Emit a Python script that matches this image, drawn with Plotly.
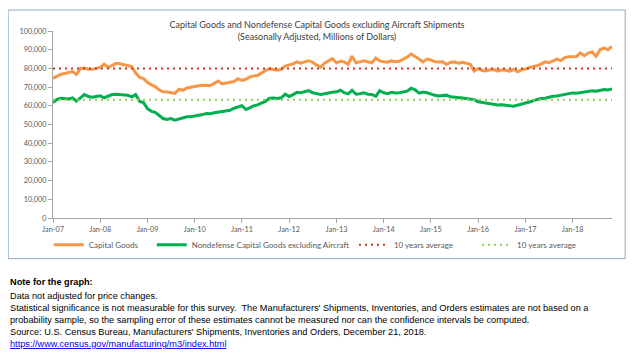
import pandas as pd
import plotly.graph_objects as go

# ---- data (millions of dollars, monthly, Jan-2007 .. Nov-2018) ----
capital_goods = [
    # 2007
    74700, 76000, 76800, 77300, 77700, 78300, 76800, 80000, 80200, 79600, 79500, 79800,
    # 2008
    80500, 82200, 80600, 81500, 82700, 82500, 82000, 81800, 81000, 77500, 75200, 74500,
    # 2009
    72500, 71200, 70300, 68500, 67500, 67400, 67200, 66700, 68900, 68300, 69500, 70000,
    # 2010
    70300, 70700, 71000, 70800, 70800, 72000, 73200, 71700, 72300, 72600, 73000, 74500,
    # 2011
    73600, 74200, 75300, 76000, 76200, 77600, 78800, 79800, 79600, 79000, 79500, 81200,
    # 2012
    81900, 82400, 83500, 82800, 83500, 84100, 83200, 81700, 80700, 82800, 84000, 85200,
    # 2013
    83000, 83800, 83500, 82200, 86500, 83000, 83500, 84100, 83500, 83000, 85500, 84000,
    # 2014
    83500, 83300, 84000, 83600, 83800, 84700, 86000, 87700, 86500, 85000, 83500, 85000,
    # 2015
    84500, 83500, 83400, 83600, 82200, 83200, 83500, 82800, 83300, 82600, 82200, 78500,
    # 2016
    79900, 78900, 78600, 79200, 79400, 78500, 79200, 79000, 78500, 79400, 78200, 79200,
    # 2017
    79600, 80500, 80800, 81500, 82300, 83500, 83000, 84000, 85000, 84200, 85800, 86200,
    # 2018
    86500, 86400, 88300, 86800, 88200, 88800, 86500, 90000, 91000, 90000, 91800,
]

nondefense_ex_aircraft = [
    # 2007
    61700, 63500, 64000, 63800, 63700, 64200, 62500, 64200, 66000, 65000, 64600, 65000,
    # 2008
    65400, 64300, 65000, 66000, 66200, 66000, 66000, 65600, 64800, 66000, 62300, 61700,
    # 2009
    58500, 57000, 56500, 55000, 53200, 52700, 53200, 52300, 53000, 53500, 54100, 54200,
    # 2010
    54500, 54800, 55300, 55900, 55800, 56300, 56600, 57000, 57400, 57600, 58700, 59200,
    # 2011
    60000, 58000, 59000, 60000, 60500, 61300, 62300, 64000, 64200, 63900, 64300, 66200,
    # 2012
    65000, 66000, 67200, 67000, 67500, 68100, 67000, 66500, 66000, 66400, 67000, 67200,
    # 2013
    67500, 68300, 67000, 66400, 68300, 66200, 66500, 66900, 66200, 66000, 65100, 68100,
    # 2014
    67000, 66500, 67200, 66800, 67000, 67300, 67800, 69400, 68500, 66800, 67400, 67000,
    # 2015
    66200, 65600, 65200, 65400, 65700, 64800, 64700, 64600, 64200, 63900, 63600, 63300,
    # 2016
    62200, 61800, 61400, 61000, 60800, 60400, 60500, 60400, 60000, 59800, 60300, 60700,
    # 2017
    61300, 62000, 62800, 63400, 63900, 64000, 64600, 65100, 65300, 65600, 66200, 66400,
    # 2018
    66900, 66700, 67000, 67400, 67800, 68100, 67800, 68100, 68700, 68500, 69000,
]

avg_capital_goods = 80000
avg_nondefense = 63200

months = pd.date_range("2007-01-01", periods=len(capital_goods), freq="MS")

title_text = ("Capital Goods and Nondefense Capital Goods excluding Aircraft Shipments<br>"
              "(Seasonally Adjusted, Millions of Dollars)")
note_lines = [
    "<b>Note for the graph:</b>",
    "Data not adjusted for price changes.",
    "Statistical significance is not measurable for this survey.  The Manufacturers' Shipments, "
    "Inventories, and Orders estimates are not based on a",
    "probability sample, so the sampling error of these estimates cannot be measured nor can the "
    "confidence intervals be computed.",
    "Source: U.S. Census Bureau, Manufacturers' Shipments, Inventories and Orders, December 21, 2018.",
    "<u>https://www.census.gov/manufacturing/m3/index.html</u>",
]

# ---- geometry (page pixels; the page body adds an 8px offset) ----
OFF = 8
PAGE_W, PAGE_H = 634, 361
W, H = PAGE_W - OFF, PAGE_H - OFF
PX_LEFT, PX_RIGHT, PX_TOP, PX_BOTTOM = 53.3, 611.8, 31.0, 218.3
L, R = PX_LEFT - OFF, PAGE_W - PX_RIGHT
T, B = PX_TOP - OFF, PAGE_H - PX_BOTTOM
pw, ph = PX_RIGHT - PX_LEFT, PX_BOTTOM - PX_TOP

def px_x(p):
    return (p - PX_LEFT) / pw

def px_y(p):
    return (PX_BOTTOM - p) / ph

FONT = "Lato, Carlito, Calibri, sans-serif"
tick_font = dict(family=FONT, size=7.3, color="#595959")
legend_font = dict(family=FONT, size=8, color="#595959")

fig = go.Figure()
fig.add_trace(go.Scatter(x=months, y=capital_goods, mode="lines", name="Capital Goods",
                         line=dict(color="#F79646", width=3), legend="legend"))
fig.add_trace(go.Scatter(x=months, y=nondefense_ex_aircraft, mode="lines",
                         name="Nondefense Capital Goods excluding Aircraft",
                         line=dict(color="#00B050", width=3), legend="legend2"))
fig.add_trace(go.Scatter(x=months, y=[avg_capital_goods] * len(months), mode="lines",
                         name="10 years average",
                         line=dict(color="#C0392B", width=2, dash="2px,4px"), legend="legend3"))
fig.add_trace(go.Scatter(x=months, y=[avg_nondefense] * len(months), mode="lines",
                         name="10 years average",
                         line=dict(color="#92D050", width=2, dash="2px,4px"), legend="legend4"))

def legend_at(text_start_px):
    return dict(orientation="h", x=px_x(text_start_px - 40), xanchor="left",
                y=px_y(245), yanchor="middle", font=legend_font,
                bgcolor="rgba(0,0,0,0)", borderwidth=0)

fig.update_layout(
    width=W, height=H,
    margin=dict(l=L, r=R, t=T, b=B, pad=0, autoexpand=False),
    paper_bgcolor="white", plot_bgcolor="white",
    title=dict(text=title_text, x=(317 - OFF) / W, xref="container", xanchor="center",
               y=1 - (28 - OFF) / H, yref="container", yanchor="middle",
               font=dict(family=FONT, size=9, color="#404040")),
    showlegend=True,
    legend=legend_at(89),
    legend2=legend_at(192),
    legend3=legend_at(394),
    legend4=legend_at(517),
    xaxis=dict(type="date", range=[months[0], months[-1]], tick0="2007-01-01", dtick="M12",
               tickformat="%b-%y", showgrid=False, zeroline=False, showline=True,
               linecolor="#A6A6A6", linewidth=1, ticks="outside", ticklen=4,
               tickcolor="#A6A6A6", tickfont=tick_font, fixedrange=True),
    yaxis=dict(range=[0, 100000], dtick=10000, tickformat=",", showgrid=False, zeroline=False,
               showline=True, linecolor="#A6A6A6", linewidth=1, ticks="outside", ticklen=4,
               tickcolor="#A6A6A6", tickfont=tick_font, fixedrange=True),
)

# chart border box
fig.add_shape(type="rect", xref="paper", yref="paper",
              x0=px_x(8.5), x1=px_x(625), y0=px_y(259), y1=px_y(10),
              line=dict(color="#8EA9C8", width=1), fillcolor="rgba(0,0,0,0)", layer="below")

# notes
note_y = [282, 296, 308.5, 320.5, 332.5, 345]
for txt, yy in zip(note_lines, note_y):
    color = "#0000EE" if "https" in txt else "#000000"
    fig.add_annotation(text=txt, xref="paper", yref="paper", x=px_x(8.5), y=px_y(yy),
                       xanchor="left", yanchor="middle", showarrow=False,
                       font=dict(family="Liberation Sans, Arial", size=9.2, color=color))

fig.write_html("out.html")
